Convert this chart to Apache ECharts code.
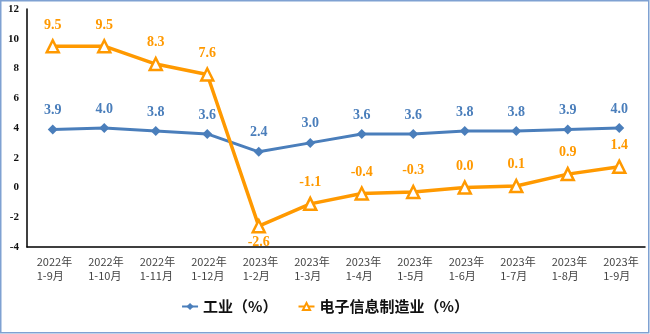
<!DOCTYPE html>
<html><head><meta charset="utf-8">
<script src="https://cdn.jsdelivr.net/npm/echarts@6/dist/echarts.min.js"></script>
<style>html,body{margin:0;padding:0;background:#fff}#c{width:650px;height:334px}</style>
</head><body><div id="c"></div>
<script>
var categories = ['2022年\n1-9月','2022年\n1-10月','2022年\n1-11月','2022年\n1-12月','2023年\n1-2月','2023年\n1-3月','2023年\n1-4月','2023年\n1-5月','2023年\n1-6月','2023年\n1-7月','2023年\n1-8月','2023年\n1-9月'];
var industry = [3.9,4.0,3.8,3.6,2.4,3.0,3.6,3.6,3.8,3.8,3.9,4.0];
var electronics = [9.5,9.5,8.3,7.6,-2.6,-1.1,-0.4,-0.3,0.0,0.1,0.9,1.4];
var seriesNames = ['工业（%）','电子信息制造业（%）'];

var chart = echarts.init(document.getElementById('c'));
var elecData = electronics.map(function(v){
  return v < -2 ? {value:v, label:{position:'bottom', distance:2}} : v;
});
chart.setOption({
  animation:false,
  graphic:[{type:'rect',shape:{x:0.75,y:0.75,width:648,height:332},style:{fill:'none',stroke:'#7FA1D2',lineWidth:1.5},z:100}],
  grid:{left:27,right:5,top:9,bottom:87},
  legend:{bottom:15,left:'center',itemGap:20,itemWidth:16,itemHeight:9,
    textStyle:{fontFamily:'Noto Sans CJK SC',fontSize:15,fontWeight:'bold',color:'#111'},
    data:seriesNames},
  xAxis:{type:'category',data:categories,boundaryGap:true,
    axisLine:{onZero:false,lineStyle:{color:'#000',width:1.5}},
    axisTick:{show:false},
    axisLabel:{interval:0,color:'#444',fontSize:11,lineHeight:14,margin:8,fontFamily:'Noto Sans CJK SC',
      width:32,overflow:'none',
      formatter:function(v){return v.split('\n').map(function(s){return '{a|'+s+'}';}).join('\n');},
      rich:{a:{align:'left',fontSize:11,lineHeight:14,color:'#444',fontFamily:'Noto Sans CJK SC'}}}},
  yAxis:{type:'value',min:-4,max:12,interval:2,
    axisLine:{show:true,lineStyle:{color:'#000',width:1.5}},
    axisTick:{show:false},splitLine:{show:false},
    axisLabel:{color:'#111',fontSize:11,fontWeight:'bold',fontFamily:'Liberation Serif',margin:8}},
  series:[
    {name:seriesNames[0],type:'line',data:industry,
     symbol:'diamond',symbolSize:10,
     lineStyle:{color:'#4A7EBB',width:3},
     itemStyle:{color:'#4A7EBB'},
     label:{show:true,position:'top',distance:7,color:'#4A7EBB',fontSize:14,fontWeight:'bold',fontFamily:'Liberation Serif',
       formatter:function(p){return p.value.toFixed(1);}}},
    {name:seriesNames[1],type:'line',data:elecData,
     symbol:'triangle',symbolSize:12,
     lineStyle:{color:'#FF9900',width:3.5},
     itemStyle:{color:'#fff',borderColor:'#FF9900',borderWidth:2.5},
     label:{show:true,position:'top',distance:7,color:'#FF9900',fontSize:14,fontWeight:'bold',fontFamily:'Liberation Serif',
       formatter:function(p){var v=(typeof p.value==='number')?p.value:p.data.value;return v.toFixed(1);}}}
  ]
});
</script></body></html>
